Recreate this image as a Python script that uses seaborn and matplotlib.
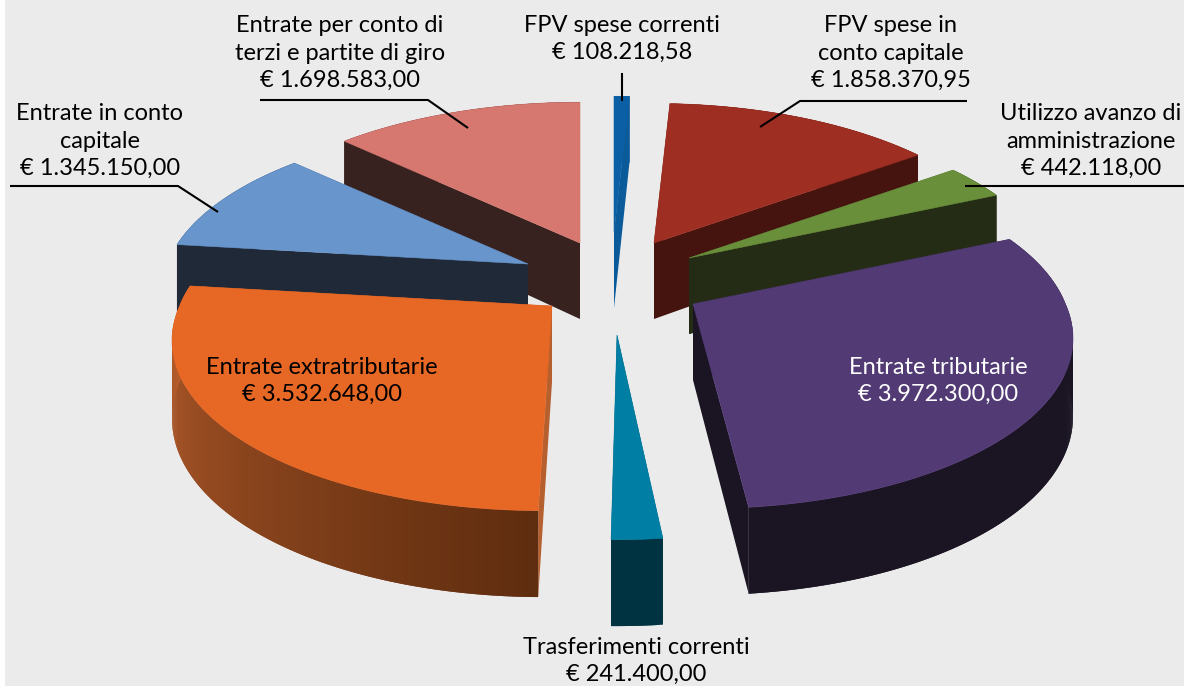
import numpy as np
import pandas as pd
import matplotlib
matplotlib.use('Agg')
import matplotlib.pyplot as plt
import seaborn as sns

# Values, clockwise from 12 o'clock
categories = ['FPV spese correnti', 'FPV spese in\nconto capitale',
              'Utilizzo avanzo di\namministrazione', 'Entrate tributarie',
              'Trasferimenti correnti', 'Entrate extratributarie',
              'Entrate in conto\ncapitale',
              'Entrate per conto di\nterzi e partite di giro']
values = [108218.58, 1858370.95, 442118.00, 3972300.00,
          241400.00, 3532648.00, 1345150.00, 1698583.00]
value_labels = ['€ 108.218,58', '€ 1.858.370,95', '€ 442.118,00', '€ 3.972.300,00',
                '€ 241.400,00', '€ 3.532.648,00', '€ 1.345.150,00', '€ 1.698.583,00']

# Look of each slice: top colour, side colour at both ends of the rim
top_colors = ['#0b5fa5', '#9e2e21', '#6a8f3b', '#523a75',
              '#007ea3', '#e76725', '#6896cc', '#d67870']
side_from = ['#0b5a9a', '#45140e', '#252c15', '#1a1423',
             '#003341', '#5f2d0f', '#1f2937', '#37221f']
side_to = ['#0b5a9a', '#45140e', '#252c15', '#1a1423',
           '#003341', '#bd602e', '#1f2937', '#37221f']
face_colors = ['#0b5a9a', '#45140e', '#252c15', '#1a1423',
               '#003341', '#b5602e', '#1f2937', '#37221f']

# Exploded layout, in pixels
apex_x = [614, 654, 689, 693, 617, 552, 528, 580]
apex_y = [232, 243, 258, 304, 335, 306, 264, 243]
radius_scale = [0.92, 0.95, 0.95, 0.98, 0.98, 0.98, 0.95, 0.96]
front_skew = [0, 0, 0, 9, -1, -9, 0, 0]
draw_order = [1, 0, 7, 2, 6, 3, 5, 4]

label_x = [622, 891, 1091, 938, 636, 322, 100, 340]
label_y = [39, 53, 141, 381, 661, 381, 141, 53]
label_colors = ['black', 'black', 'black', 'white', 'black', 'black', 'black', 'black']

leaders = [[(622, 73), (622, 101)],
           [(967, 101), (800, 101), (760, 127)],
           [(1184, 186), (965, 186)],
           [(10, 186), (178, 186), (218, 212)],
           [(260, 100), (428, 100), (468, 128)]]

RX, RY, DEPTH, HEIGHT = 380, 172, 0.18, 76

df = pd.DataFrame({'category': categories, 'value': values})
df['end'] = df['value'].cumsum() / df['value'].sum() * 360
df['start'] = df['end'].shift(fill_value=0)

sns.set_theme(style='white')
plt.rcParams['font.family'] = ['Lato', 'DejaVu Sans']

fig, ax = plt.subplots(figsize=(11.84, 6.86), dpi=100)
ax.set_position([0, 0, 1, 1])
ax.set_xlim(0, 1184)
ax.set_ylim(686, 0)
ax.axis('off')
fig.patch.set_facecolor('#ebebeb')
ax.axvspan(0, 5, color='white', lw=0)


def project(i, angle):
    # Point of the disc seen in perspective, and the slice height there
    th = np.radians(angle)
    u = np.sin(th) * radius_scale[i]
    v = np.cos(th) * radius_scale[i]
    s = 1 / (1 + DEPTH * v)
    px = apex_x[i] + RX * u * s + front_skew[i] * np.clip(-v, 0, 1)
    return px, apex_y[i] - RY * v * s, HEIGHT * (1 - 0.14 * v)


for order, i in enumerate(draw_order):
    z = 1 + order
    start, end = df.loc[i, 'start'], df.loc[i, 'end']
    angles = np.linspace(start, end, max(int(end - start) * 2, 6))
    x, y, h = project(i, angles)

    # radial faces
    for k in (0, -1):
        ax.fill([apex_x[i], x[k], x[k], apex_x[i]],
                [apex_y[i], y[k], y[k] + h[k], apex_y[i] + HEIGHT],
                color=face_colors[i], lw=0, zorder=z)

    # rim, as narrow overlapping quads so that the shading can change along it
    n = len(angles)
    shades = sns.blend_palette([side_from[i], side_to[i]], n - 1)
    for k in range(n - 1):
        j = min(k + 2, n - 1)
        ax.fill(np.r_[x[k:j + 1], x[k:j + 1][::-1]],
                np.r_[y[k:j + 1], (y + h)[k:j + 1][::-1]],
                color=shades[k], lw=0, zorder=z)

    ax.fill(np.r_[apex_x[i], x], np.r_[apex_y[i], y],
            color=top_colors[i], lw=0.4, zorder=z)

for pts in leaders:
    xs, ys = zip(*pts)
    ax.plot(xs, ys, color='black', lw=1.5, zorder=20, solid_capstyle='butt')

for i, name in enumerate(categories):
    ax.text(label_x[i], label_y[i], name + '\n' + value_labels[i],
            ha='center', va='center', fontsize=17, linespacing=1.37,
            color=label_colors[i], zorder=21)

fig.savefig('out.png', dpi=100, facecolor=fig.get_facecolor())
